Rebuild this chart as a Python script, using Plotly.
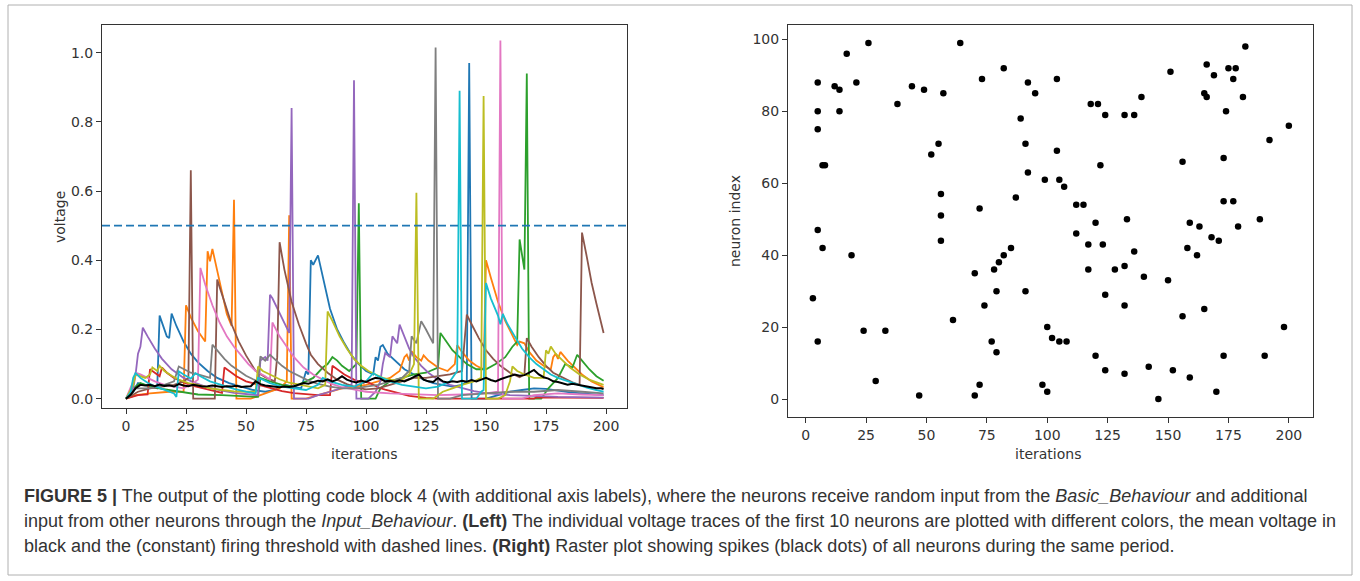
import plotly.graph_objects as go

# left panel: membrane voltage of the first 10 neurons, (iteration, voltage)
n0 = [(0, 0), (3, 0.02), (5, 0.045), (8, 0.04), (11, 0.035), (13, 0.03), (14, 0.24), (15, 0.22), (17, 0.18),
      (18, 0.175), (19, 0.246), (21, 0.21), (24, 0.165), (27, 0.13), (30, 0.105), (34, 0.08), (38, 0.06),
      (43, 0.045), (48, 0.035), (53, 0.025), (58, 0.02), (62, 0.025), (66, 0.04), (70, 0.035), (73, 0.03),
      (75, 0.079), (76, 0.07), (77, 0.40), (78, 0.387), (80, 0.414), (82, 0.35), (85, 0.26), (88, 0.2),
      (91, 0.16), (94, 0.125), (97, 0.1), (100, 0.08), (103, 0.07), (104, 0.12), (105, 0.11), (106, 0.15),
      (107, 0.155), (109, 0.13), (112, 0.11), (116, 0.085), (120, 0.07), (124, 0.055), (128, 0.045),
      (132, 0.04), (136, 0.035), (140, 0.04), (142, 0.05), (143, 0.97), (144, 0), (150, 0), (155, 0.01),
      (160, 0.02), (165, 0.025), (170, 0.03), (175, 0.028), (180, 0.022), (185, 0.018), (190, 0.015),
      (195, 0.012), (199, 0.01)]
n1 = [(0, 0), (4, 0.01), (10, 0.015), (18, 0.02), (24, 0.02), (25, 0.27), (27, 0.235), (30, 0.195), (33, 0.165),
      (34, 0.426), (35, 0.397), (36, 0.433), (38, 0.37), (40, 0.31), (42, 0.245), (44, 0.21), (45, 0.575),
      (46, 0), (52, 0), (56, 0.01), (60, 0.02), (64, 0.03), (67, 0.05), (68, 0.53), (69, 0), (75, 0),
      (80, 0.01), (85, 0.02), (90, 0.03), (95, 0.035), (100, 0.04), (105, 0.05), (110, 0.06), (114, 0.08),
      (116, 0.12), (117, 0.127), (118, 0.11), (119, 0.137), (121, 0.12), (123, 0.11), (124, 0.125),
      (126, 0.11), (130, 0.09), (134, 0.08), (137, 0.1), (138, 0.155), (140, 0.135), (143, 0.11),
      (146, 0.095), (149, 0.085), (150, 0.40), (152, 0.35), (155, 0.28), (158, 0.225), (161, 0.18),
      (163, 0.155), (164, 0.165), (166, 0.16), (168, 0.135), (171, 0.11), (174, 0.095), (177, 0.085),
      (178, 0.12), (179, 0.13), (180, 0.115), (181, 0.135), (184, 0.11), (187, 0.09), (190, 0.07),
      (194, 0.05), (198, 0.036), (199, 0.033)]
n2 = [(0, 0), (3, 0.03), (6, 0.045), (10, 0.035), (15, 0.028), (20, 0.022), (30, 0.012), (40, 0.01),
      (50, 0.006), (55, 0.005), (56, 0.06), (60, 0.05), (65, 0.04), (70, 0.035), (75, 0.05), (78, 0.06),
      (82, 0.09), (84, 0.1), (86, 0.12), (88, 0.11), (90, 0.095), (93, 0.08), (96, 0.1), (97, 0.565), (98, 0),
      (104, 0), (106, 0.03), (110, 0.05), (115, 0.06), (120, 0.07), (125, 0.075), (130, 0.09), (131, 0.19),
      (133, 0.17), (136, 0.14), (139, 0.12), (142, 0.1), (146, 0.085), (150, 0.085), (154, 0.1), (158, 0.12),
      (161, 0.15), (163, 0.165), (164, 0.46), (165, 0.41), (166, 0.373), (167, 0.94), (168, 0), (173, 0),
      (176, 0.03), (180, 0.06), (183, 0.1), (186, 0.09), (188, 0.127), (190, 0.11), (193, 0.085),
      (196, 0.065), (199, 0.052)]
n3 = [(0, 0), (5, 0.01), (9, 0.012), (10, 0.085), (12, 0.075), (14, 0.065), (15, 0.09), (17, 0.075),
      (20, 0.06), (24, 0.047), (28, 0.037), (32, 0.03), (36, 0.022), (40, 0.017), (41, 0.09), (43, 0.08),
      (46, 0.065), (50, 0.05), (55, 0.04), (60, 0.03), (65, 0.022), (70, 0.016), (75, 0.012), (80, 0.01),
      (85, 0.01), (86, 0.095), (88, 0.085), (91, 0.07), (95, 0.055), (99, 0.045), (100, 0.05), (103, 0.04),
      (106, 0.03), (108, 0.026), (112, 0.018), (118, 0.008), (125, 0.002), (130, 0), (170, 0), (171, 0.004),
      (180, 0.003), (199, 0.002)]
n4 = [(0, 0), (3, 0.03), (4, 0.07), (5, 0.13), (6, 0.15), (7, 0.205), (9, 0.18), (12, 0.145), (15, 0.115),
      (19, 0.085), (24, 0.06), (29, 0.045), (34, 0.033), (40, 0.023), (45, 0.017), (50, 0.013), (55, 0.01),
      (56, 0.11), (58, 0.12), (59, 0.11), (60, 0.30), (61, 0.29), (63, 0.26), (65, 0.23), (67, 0.205),
      (68, 0.19), (69, 0.84), (70, 0), (76, 0), (80, 0.01), (85, 0.02), (90, 0.03), (94, 0.04), (95, 0.92),
      (96, 0), (101, 0), (104, 0.02), (106, 0.05), (107, 0.1), (108, 0.132), (110, 0.12), (111, 0.18),
      (112, 0.17), (113, 0.16), (114, 0.214), (116, 0.18), (118, 0.145), (120, 0.12), (123, 0.095),
      (126, 0.075), (130, 0.055), (135, 0.04), (140, 0.03), (145, 0.022), (150, 0.016), (155, 0.012),
      (160, 0.01), (170, 0.008), (180, 0.005), (199, 0.003)]
n5 = [(0, 0), (5, 0.02), (10, 0.03), (15, 0.035), (20, 0.04), (24, 0.05), (26, 0.06), (27, 0.66), (28, 0),
      (37, 0), (38, 0.344), (41, 0.28), (44, 0.215), (47, 0.165), (50, 0.125), (54, 0.08), (58, 0.062),
      (62, 0.05), (63, 0.12), (64, 0.452), (66, 0.373), (69, 0.28), (72, 0.215), (75, 0.16), (77, 0.127),
      (80, 0.1), (84, 0.075), (88, 0.055), (92, 0.042), (96, 0.032), (100, 0.027), (105, 0.03), (110, 0.04),
      (115, 0.05), (120, 0.06), (125, 0.06), (130, 0.065), (135, 0.07), (140, 0.08), (142, 0.243),
      (144, 0.215), (147, 0.175), (150, 0.14), (153, 0.115), (156, 0.095), (160, 0.075), (164, 0.062),
      (166, 0.07), (167, 0.175), (169, 0.15), (172, 0.12), (175, 0.095), (178, 0.075), (182, 0.06),
      (186, 0.047), (189, 0.04), (190, 0.48), (192, 0.41), (194, 0.335), (196, 0.275), (198, 0.215),
      (199, 0.19)]
n6 = [(0, 0), (3, 0.05), (4, 0.075), (6, 0.07), (9, 0.06), (12, 0.05), (16, 0.04), (20, 0.035), (24, 0.03),
      (28, 0.045), (30, 0.055), (31, 0.378), (33, 0.33), (36, 0.27), (39, 0.22), (42, 0.18), (45, 0.15),
      (48, 0.125), (51, 0.1), (54, 0.08), (58, 0.065), (60, 0.055), (61, 0.22), (64, 0.18), (67, 0.15),
      (70, 0.12), (74, 0.09), (78, 0.07), (82, 0.055), (86, 0.042), (90, 0.033), (95, 0.026), (100, 0.02),
      (110, 0.015), (120, 0.012), (130, 0.01), (140, 0.012), (150, 0.015), (155, 0.02), (156, 1.035),
      (157, 0), (165, 0), (170, 0.01), (180, 0.015), (190, 0.012), (199, 0.01)]
n7 = [(0, 0), (4, 0.03), (8, 0.03), (12, 0.032), (16, 0.04), (20, 0.05), (22, 0.093), (24, 0.085), (27, 0.075),
      (30, 0.07), (33, 0.064), (35, 0.06), (36, 0.156), (38, 0.14), (41, 0.115), (44, 0.095), (47, 0.08),
      (50, 0.066), (53, 0.056), (55, 0.05), (56, 0.122), (58, 0.11), (60, 0.127), (62, 0.115), (65, 0.095),
      (68, 0.08), (72, 0.065), (76, 0.052), (80, 0.043), (85, 0.035), (90, 0.03), (95, 0.03), (100, 0.035),
      (105, 0.04), (110, 0.05), (115, 0.06), (118, 0.08), (119, 0.18), (121, 0.16), (123, 0.224),
      (125, 0.2), (127, 0.17), (128, 0.16), (129, 1.015), (130, 0), (135, 0), (140, 0.01), (150, 0.015),
      (160, 0.02), (170, 0.02), (180, 0.025), (190, 0.02), (199, 0.015)]
n8 = [(0, 0), (3, 0.04), (4, 0.07), (6, 0.065), (8, 0.06), (10, 0.07), (11, 0.09), (13, 0.08), (14, 0.095),
      (16, 0.08), (19, 0.066), (22, 0.055), (26, 0.045), (30, 0.04), (35, 0.03), (40, 0.025), (45, 0.021),
      (50, 0.02), (54, 0.02), (55, 0.093), (57, 0.08), (60, 0.07), (64, 0.056), (68, 0.046), (72, 0.04),
      (76, 0.035), (80, 0.03), (83, 0.04), (84, 0.252), (86, 0.225), (89, 0.18), (92, 0.145), (95, 0.115),
      (98, 0.095), (101, 0.08), (104, 0.07), (107, 0.06), (110, 0.055), (114, 0.05), (118, 0.07), (120, 0.1),
      (121, 0.595), (122, 0), (128, 0), (132, 0.02), (136, 0.03), (140, 0.04), (145, 0.05), (148, 0.06),
      (149, 0.875), (150, 0), (155, 0), (158, 0.01), (160, 0.05), (161, 0.093), (163, 0.08), (166, 0.07),
      (170, 0.06), (174, 0.06), (175, 0.14), (176, 0.13), (177, 0.151), (179, 0.13), (182, 0.11),
      (185, 0.09), (189, 0.07), (193, 0.055), (199, 0.04)]
n9 = [(0, 0), (2, 0.02), (3, 0.06), (4, 0.074), (6, 0.06), (9, 0.046), (12, 0.036), (16, 0.026), (20, 0.015),
      (21, 0.005), (22, 0.079), (24, 0.07), (27, 0.058), (29, 0.074), (31, 0.065), (35, 0.05), (40, 0.038),
      (45, 0.028), (50, 0.02), (54, 0.015), (55, 0.06), (57, 0.055), (60, 0.045), (65, 0.035), (70, 0.03),
      (75, 0.025), (80, 0.04), (82, 0.06), (85, 0.05), (90, 0.04), (95, 0.035), (100, 0.05), (103, 0.074),
      (105, 0.065), (110, 0.05), (115, 0.04), (120, 0.035), (125, 0.03), (130, 0.035), (135, 0.05),
      (138, 0.08), (139, 0.89), (140, 0), (146, 0), (148, 0.02), (149, 0.025), (150, 0.334), (152, 0.29),
      (155, 0.24), (156, 0.215), (157, 0.245), (159, 0.215), (162, 0.18), (165, 0.145), (168, 0.12),
      (171, 0.1), (174, 0.085), (177, 0.07), (180, 0.06), (184, 0.05), (188, 0.04), (192, 0.032),
      (196, 0.025), (199, 0.02)]

# mean voltage over all neurons
mean_trace = [(0, 0.0), (2, 0.012), (4, 0.03), (6, 0.04), (8, 0.038), (10, 0.04), (12, 0.036), (14, 0.041),
              (16, 0.037), (18, 0.039), (20, 0.035), (22, 0.042), (24, 0.038), (26, 0.036), (28, 0.04),
              (30, 0.037), (32, 0.035), (34, 0.036), (36, 0.038), (38, 0.036), (40, 0.034), (42, 0.036),
              (44, 0.035), (46, 0.037), (48, 0.034), (50, 0.035), (52, 0.036), (54, 0.05), (56, 0.042),
              (58, 0.038), (60, 0.036), (62, 0.035), (64, 0.033), (66, 0.035), (68, 0.034), (70, 0.036),
              (72, 0.04), (74, 0.045), (76, 0.043), (78, 0.048), (80, 0.052), (82, 0.05), (84, 0.056),
              (86, 0.05), (88, 0.055), (90, 0.065), (92, 0.055), (94, 0.05), (96, 0.047), (98, 0.052),
              (100, 0.048), (102, 0.055), (104, 0.06), (106, 0.058), (108, 0.05), (110, 0.052), (112, 0.049),
              (114, 0.053), (116, 0.05), (118, 0.056), (120, 0.062), (122, 0.07), (124, 0.055), (126, 0.05),
              (128, 0.048), (130, 0.06), (132, 0.05), (134, 0.047), (136, 0.05), (138, 0.048), (140, 0.052),
              (142, 0.049), (144, 0.054), (146, 0.05), (148, 0.055), (150, 0.06), (152, 0.054), (154, 0.05),
              (156, 0.056), (158, 0.06), (160, 0.065), (162, 0.07), (164, 0.066), (166, 0.068), (168, 0.075),
              (170, 0.083), (172, 0.07), (174, 0.062), (176, 0.058), (178, 0.05), (180, 0.048), (182, 0.045),
              (184, 0.04), (186, 0.043), (188, 0.04), (190, 0.038), (192, 0.035), (194, 0.033), (196, 0.03),
              (198, 0.03), (199, 0.028)]
threshold = 0.5

# right panel: spikes as (iteration, neuron index)
spikes = [(5, 88), (5, 80), (5, 75), (7, 65), (8, 65), (5, 47), (12, 87), (14, 86), (14, 80), (17, 96), (21, 88),
          (26, 99), (38, 82), (44, 87), (49, 86), (57, 85), (52, 68), (55, 71), (56, 57), (56, 51), (56, 44),
          (64, 99), (72, 53), (73, 89), (82, 92), (87, 56), (89, 78), (91, 71), (92, 88), (92, 63), (95, 85),
          (104, 89), (104, 69), (99, 61), (105, 61), (107, 59), (112, 54), (115, 54), (112, 46), (120, 49),
          (122, 65), (118, 82), (121, 82), (124, 79), (132, 79), (136, 79), (133, 50), (139, 84), (151, 91),
          (156, 66), (159, 49), (163, 48), (166, 93), (169, 90), (165, 85), (166, 84), (175, 92), (178, 92),
          (177, 89), (182, 98), (181, 84), (174, 80), (173, 67), (173, 55), (177, 55), (179, 48), (188, 50),
          (168, 45), (171, 44), (192, 72), (200, 76), (7, 42), (19, 40), (3, 28), (5, 16), (24, 19), (33, 19),
          (29, 5), (47, 1), (61, 22), (70, 35), (70, 1), (72, 4), (74, 26), (77, 16), (79, 13), (78, 36),
          (79, 30), (80, 38), (82, 40), (85, 42), (91, 30), (117, 43), (123, 43), (136, 41), (117, 36),
          (128, 36), (132, 37), (140, 34), (150, 33), (158, 42), (162, 40), (124, 29), (132, 26), (156, 23),
          (165, 25), (100, 20), (102, 17), (105, 16), (108, 16), (120, 12), (124, 8), (132, 7), (142, 9),
          (152, 8), (159, 6), (173, 12), (190, 12), (198, 20), (98, 4), (100, 2), (146, 0), (170, 2)]

x_ticks = [0, 25, 50, 75, 100, 125, 150, 175, 200]

caption_lines = [
    "<b>FIGURE 5 |</b> The output of the plotting code block 4 (with additional axis labels), where the neurons "
    "receive random input from the <i>Basic_Behaviour</i> and additional",
    "input from other neurons through the <i>Input_Behaviour</i>. <b>(Left)</b> The individual voltage traces of "
    "the first 10 neurons are plotted with different colors, the mean voltage in",
    "black and the (constant) firing threshold with dashed lines. <b>(Right)</b> Raster plot showing spikes "
    "(black dots) of all neurons during the same period.",
]

TAB10 = ['#1f77b4', '#ff7f0e', '#2ca02c', '#d62728', '#9467bd',
         '#8c564b', '#e377c2', '#7f7f7f', '#bcbd22', '#17becf']
W, H = 1360, 581
AX = '#333333'
TICKFONT = dict(family="DejaVu Sans", size=14, color=AX)

fig = go.Figure()

for k, tr in enumerate([n0, n1, n2, n3, n4, n5, n6, n7, n8, n9]):
    fig.add_trace(go.Scatter(
        x=[p[0] for p in tr], y=[p[1] for p in tr],
        mode="lines", line=dict(color=TAB10[k], width=1.8),
        xaxis="x", yaxis="y", showlegend=False, hoverinfo="skip"
    ))

fig.add_trace(go.Scatter(
    x=[p[0] for p in mean_trace], y=[p[1] for p in mean_trace],
    mode="lines", line=dict(color="black", width=2),
    xaxis="x", yaxis="y", showlegend=False
))

# threshold, like axhline
fig.add_shape(type="line", xref="x domain", x0=0, x1=1, yref="y", y0=threshold, y1=threshold,
              line=dict(color="#1f77b4", width=1.6, dash="8px,4px"))

fig.add_trace(go.Scatter(
    x=[s[0] for s in spikes], y=[s[1] for s in spikes],
    mode="markers", marker=dict(color="black", size=6.5),
    xaxis="x2", yaxis="y2", showlegend=False
))

axis_common = dict(showgrid=False, zeroline=False, showline=True, mirror=True,
                   linecolor=AX, linewidth=1, ticks="outside", ticklen=5,
                   tickcolor=AX, tickfont=TICKFONT)

fig.update_layout(
    width=W, height=H,
    margin=dict(l=0, r=0, t=0, b=0),
    paper_bgcolor="white", plot_bgcolor="white",
    xaxis=dict(domain=[102 / W, 627 / W], range=[-10, 208.75], tickvals=x_ticks,
               anchor="y", **axis_common),
    yaxis=dict(domain=[1 - 408 / H, 1 - 25 / H], range=[-0.027, 1.08], tick0=0, dtick=0.2,
               tickformat=".1f", anchor="x", **axis_common),
    xaxis2=dict(domain=[788 / W, 1313 / W], range=[-7.3, 210], tickvals=x_ticks,
                anchor="y2", **axis_common),
    yaxis2=dict(domain=[1 - 417 / H, 1 - 25 / H], range=[-5, 104], tick0=0, dtick=20,
                anchor="x2", **axis_common),
)

label_font = dict(family="DejaVu Sans", size=14, color=AX)
axis_labels = [
    ("voltage", 60, 217, -90),
    ("iterations", 364, 454, 0),
    ("neuron index", 735, 221, -90),
    ("iterations", 1048, 454, 0),
]
for txt, px, py, ang in axis_labels:
    fig.add_annotation(text=txt, xref="paper", yref="paper", x=px / W, y=1 - py / H,
                       showarrow=False, textangle=ang, font=label_font,
                       xanchor="center", yanchor="middle")

cap_font = dict(family="Liberation Sans, Arial, sans-serif", size=18, color="#333333")
for i, line in enumerate(caption_lines):
    fig.add_annotation(text=line, xref="paper", yref="paper", x=22 / W, y=1 - (496 + 24.8 * i) / H,
                       showarrow=False, xanchor="left", yanchor="middle", align="left", font=cap_font)

# frame around the whole figure
fig.add_shape(type="rect", xref="paper", yref="paper", x0=8 / W, x1=1352 / W, y0=1 - 575 / H, y1=1 - 5 / H,
              line=dict(color="#b0b0b0", width=1))

# the page's default body margin would shift the whole figure by 8px
fig.write_html("out.html", config={"displayModeBar": False},
               post_script="document.body.style.margin='0';")
